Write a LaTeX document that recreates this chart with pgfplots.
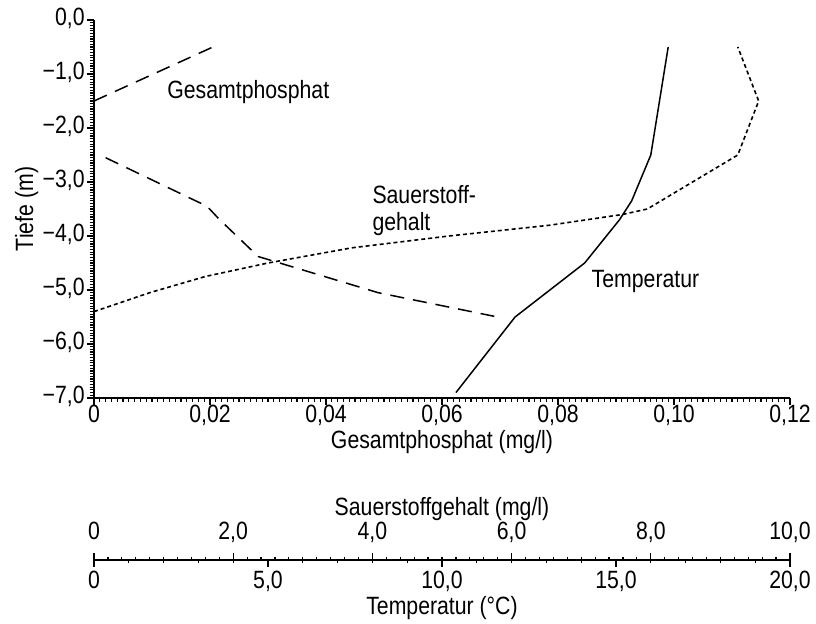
\documentclass[border=0pt]{standalone}
\usepackage{fontspec}
\setmainfont{Liberation Sans}[FakeStretch=0.85]
\usepackage{pgfplots}
\usepackage{pgfplotstable}
\pgfplotsset{compat=1.18}

% Gesamtphosphat (mg/l) vs depth, two pieces
\pgfplotstableread{
P d
0 -1.5
0.0205 -0.5
}\phosA
\pgfplotstableread{
P d
0.002 -2.55
0.0195 -3.45
0.0215 -3.68
0.0283 -4.38
0.049 -5.05
0.0705 -5.52
}\phosB
% Temperatur (C)
\pgfplotstableread{
T d
16.5 -0.5
16.0 -2.5
15.45 -3.35
15.1 -3.7
14.1 -4.5
12.1 -5.5
10.4 -6.9
}\temp
% Sauerstoffgehalt (mg/l)
\pgfplotstableread{
O d
0 -5.4
0.8 -5.05
1.6 -4.75
2.5 -4.5
3.7 -4.22
5.1 -4.0
6.55 -3.8
7.6 -3.6
7.95 -3.5
9.25 -2.5
9.55 -1.5
9.25 -0.5
}\oxy

\pgfplotsset{
  every tick label/.append style={inner sep=1pt, text height=0.75em, text depth=0.2em},
}

\begin{document}
\begin{tikzpicture}[font=\fontsize{12.5}{13.5}\selectfont]
\path[use as bounding box] (-47pt,-113pt) rectangle (361pt,199pt);

\begin{axis}[
  width=348pt, height=189pt, scale only axis,
  xmin=0, xmax=0.12, ymin=-7, ymax=0,
  axis lines=left,
  axis line style={-, line width=1pt},
  xtick={0,0.02,0.04,0.06,0.08,0.10,0.12},
  xticklabels={0,{0,02},{0,04},{0,06},{0,08},{0,10},{0,12}},
  ytick={-7,-6,-5,-4,-3,-2,-1,0},
  yticklabels={{−7,0},{−6,0},{−5,0},{−4,0},{−3,0},{−2,0},{−1,0},{0,0}},
  minor x tick num=19, minor y tick num=19,
  tick align=outside,
  major tick length=3.5pt, minor tick length=2pt,
  tick style={line width=0.6pt, black},
  xlabel={Gesamtphosphat (mg/l)},
  ylabel={Tiefe (m)},
  xlabel style={inner sep=1pt},
  ylabel style={inner sep=1pt},
]
\addplot[black, line width=0.75pt, dash pattern=on 7pt off 4.5pt] table[x=P, y=d] {\phosA};
\addplot[black, line width=0.75pt, dash pattern=on 7pt off 4.5pt] table[x=P, y=d] {\phosB};
\addplot[black, line width=0.75pt] table[x expr=\thisrow{T}*0.006, y=d] {\temp};
\addplot[black, line width=0.8pt, dash pattern=on 2pt off 1.5pt] table[x expr=\thisrow{O}*0.012, y=d] {\oxy};
\node at (axis cs:0.0266,-1.33) {Gesamtphosphat};
\node[anchor=west, align=left] at (axis cs:0.0468,-3.52) {Sauerstoff-\\gehalt};
\node[anchor=west] at (axis cs:0.0846,-4.85) {Temperatur};
\end{axis}

\begin{axis}[
  at={(0,-81pt)}, anchor=north west,
  width=348pt, height=5pt, scale only axis,
  xmin=0, xmax=10, ymin=0, ymax=1,
  axis x line=top, axis y line=none,
  axis line style={-, line width=0.7pt},
  xtick={0,2,4,6,8,10},
  xticklabels={0,{2,0},{4,0},{6,0},{8,0},{10,0}},
  minor x tick num=9,
  tick align=outside,
  major tick length=3.5pt, minor tick length=1.5pt,
  tick style={line width=0.6pt, black},
  xticklabel style={yshift=3.5pt},
  xlabel={Sauerstoffgehalt (mg/l)},
  xlabel style={yshift=-2.5pt},
]
\end{axis}

\begin{axis}[
  at={(0,-81pt)}, anchor=south west,
  width=348pt, height=5pt, scale only axis,
  xmin=0, xmax=20, ymin=0, ymax=1,
  axis x line=bottom, axis y line=none,
  axis line style={-, line width=0.7pt},
  xtick={0,5,10,15,20},
  xticklabels={0,{5,0},{10,0},{15,0},{20,0}},
  minor x tick num=4,
  tick align=outside,
  major tick length=3.5pt, minor tick length=1.5pt,
  tick style={line width=0.6pt, black},
  xticklabel style={yshift=-2pt},
  xlabel={Temperatur (°C)},
  xlabel style={inner sep=1pt},
]
\end{axis}
\end{tikzpicture}
\end{document}
